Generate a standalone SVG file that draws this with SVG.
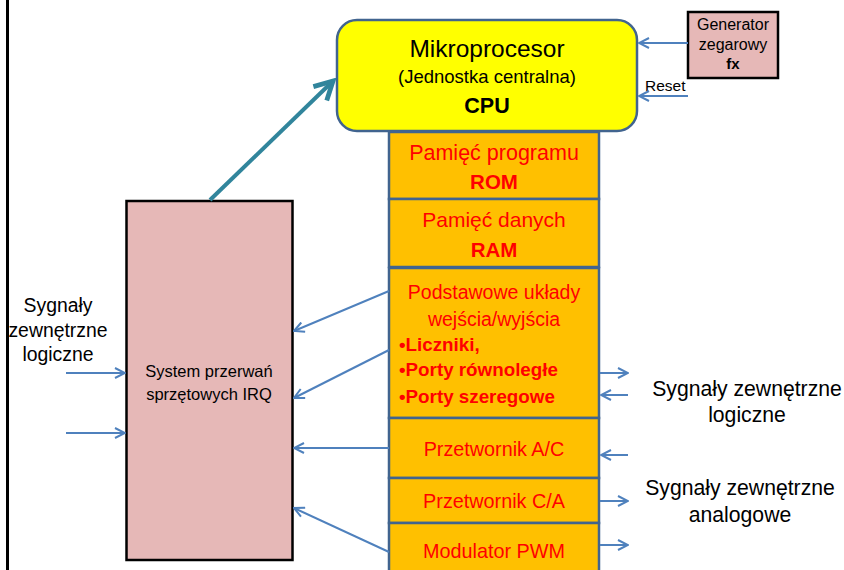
<svg xmlns="http://www.w3.org/2000/svg" width="844" height="570" viewBox="0 0 844 570">
<style>
text{font-family:"Liberation Sans",Arial,sans-serif;}
.blk{fill:#000;}
.red{fill:#FF0000;}
.b{font-weight:bold;}
.org{fill:#FFC000;stroke:#41648F;stroke-width:2.5;}
.con{stroke:#4F81BD;stroke-width:2;fill:none;}
</style>
<defs>
<marker id="ah" viewBox="0 0 12 12" refX="11" refY="6" markerWidth="12" markerHeight="12" markerUnits="userSpaceOnUse" orient="auto">
<path d="M1,1 L11,6 L1,11" fill="none" stroke="#4F81BD" stroke-width="2"/>
</marker>
<marker id="ah2" viewBox="0 0 10 10" refX="8.5" refY="5" markerWidth="6" markerHeight="6" orient="auto">
<path d="M1,1 L8.5,5 L1,9" fill="none" stroke="#31859C" stroke-width="2"/>
</marker>
</defs>
<rect x="0" y="0" width="844" height="570" fill="#fff"/>
<line x1="7.5" y1="0" x2="7.5" y2="570" stroke="#000" stroke-width="3"/>

<g id="cpu">
<rect x="337" y="20" width="300" height="111" rx="20" fill="#FFFF00" stroke="#41648F" stroke-width="2.5"/>
<text x="487" y="57" text-anchor="middle" font-size="24.5" class="blk">Mikroprocesor</text>
<text x="487" y="83" text-anchor="middle" font-size="18.5" class="blk">(Jednostka centralna)</text>
<text x="487" y="113" text-anchor="middle" font-size="21.5" class="blk b">CPU</text>
</g>

<g id="generator">
<rect x="688" y="12" width="90" height="66" fill="#E6B8B7" stroke="#000" stroke-width="2.5"/>
<text x="733" y="30" text-anchor="middle" font-size="16" class="blk">Generator</text>
<text x="733" y="50" text-anchor="middle" font-size="16" class="blk">zegarowy</text>
<text x="733" y="69" text-anchor="middle" font-size="15" class="blk b">fx</text>
</g>

<g id="rom">
<rect x="389" y="132" width="210" height="67" class="org"/>
<text x="494" y="160" text-anchor="middle" font-size="21.5" class="red">Pamięć programu</text>
<text x="494" y="189" text-anchor="middle" font-size="20.5" class="red b">ROM</text>
</g>
<g id="ram">
<rect x="389" y="199" width="210" height="68" class="org"/>
<text x="494" y="227" text-anchor="middle" font-size="21" class="red">Pamięć danych</text>
<text x="494" y="257" text-anchor="middle" font-size="20.5" class="red b">RAM</text>
</g>
<g id="io">
<rect x="389" y="268" width="210" height="150" class="org"/>
<text x="494" y="299" text-anchor="middle" font-size="19.5" class="red">Podstawowe układy</text>
<text x="494" y="326" text-anchor="middle" font-size="19.5" class="red">wejścia/wyjścia</text>
<text x="399" y="351" font-size="18.8" class="red b">•Liczniki,</text>
<text x="399" y="376" font-size="18.8" class="red b">•Porty równoległe</text>
<text x="399" y="403" font-size="18.8" class="red b">•Porty szeregowe</text>
</g>
<g id="ac">
<rect x="389" y="418" width="210" height="60" class="org"/>
<text x="494" y="456" text-anchor="middle" font-size="19.8" class="red">Przetwornik A/C</text>
</g>
<g id="ca">
<rect x="389" y="478" width="210" height="45" class="org"/>
<text x="494" y="508" text-anchor="middle" font-size="19.8" class="red">Przetwornik C/A</text>
</g>
<g id="pwm">
<rect x="389" y="523" width="210" height="60" class="org"/>
<text x="494" y="558" text-anchor="middle" font-size="19.8" class="red">Modulator PWM</text>
</g>

<g id="irq">
<rect x="126.5" y="201" width="166" height="359" fill="#E6B8B7" stroke="#000" stroke-width="2.5"/>
<text x="209" y="377" text-anchor="middle" font-size="16.5" class="blk">System przerwań</text>
<text x="209" y="400" text-anchor="middle" font-size="16.5" class="blk">sprzętowych IRQ</text>
</g>

<g id="labels">
<text x="645" y="91" font-size="15.5" class="blk">Reset</text>
<text x="58" y="312" text-anchor="middle" font-size="19.4" class="blk">Sygnały</text>
<text x="58" y="337" text-anchor="middle" font-size="19.4" class="blk">zewnętrzne</text>
<text x="58" y="361" text-anchor="middle" font-size="19.4" class="blk">logiczne</text>
<text x="747" y="396" text-anchor="middle" font-size="21.2" class="blk">Sygnały zewnętrzne</text>
<text x="747" y="422" text-anchor="middle" font-size="21.2" class="blk">logiczne</text>
<text x="740" y="495" text-anchor="middle" font-size="21.2" class="blk">Sygnały zewnętrzne</text>
<text x="740" y="522" text-anchor="middle" font-size="21.2" class="blk">analogowe</text>
</g>

<g id="connectors">
<line x1="210" y1="200" x2="333" y2="81" stroke="#31859C" stroke-width="4" marker-end="url(#ah2)"/>
<line x1="688" y1="43" x2="639" y2="43" class="con" marker-end="url(#ah)"/>
<line x1="688" y1="96" x2="639" y2="96" class="con" marker-end="url(#ah)"/>
<line x1="66" y1="373" x2="125" y2="373" class="con" marker-end="url(#ah)"/>
<line x1="66" y1="433" x2="125" y2="433" class="con" marker-end="url(#ah)"/>
<line x1="389" y1="291" x2="294" y2="331" class="con" marker-end="url(#ah)"/>
<line x1="389" y1="350" x2="294" y2="398" class="con" marker-end="url(#ah)"/>
<line x1="389" y1="448" x2="294" y2="448" class="con" marker-end="url(#ah)"/>
<line x1="389" y1="552" x2="294" y2="508" class="con" marker-end="url(#ah)"/>
<line x1="600" y1="373" x2="628" y2="373" class="con" marker-end="url(#ah)"/>
<line x1="628" y1="395" x2="601" y2="395" class="con" marker-end="url(#ah)"/>
<line x1="628" y1="455" x2="601" y2="455" class="con" marker-end="url(#ah)"/>
<line x1="600" y1="501" x2="628" y2="501" class="con" marker-end="url(#ah)"/>
<line x1="600" y1="545" x2="628" y2="545" class="con" marker-end="url(#ah)"/>
</g>
</svg>
